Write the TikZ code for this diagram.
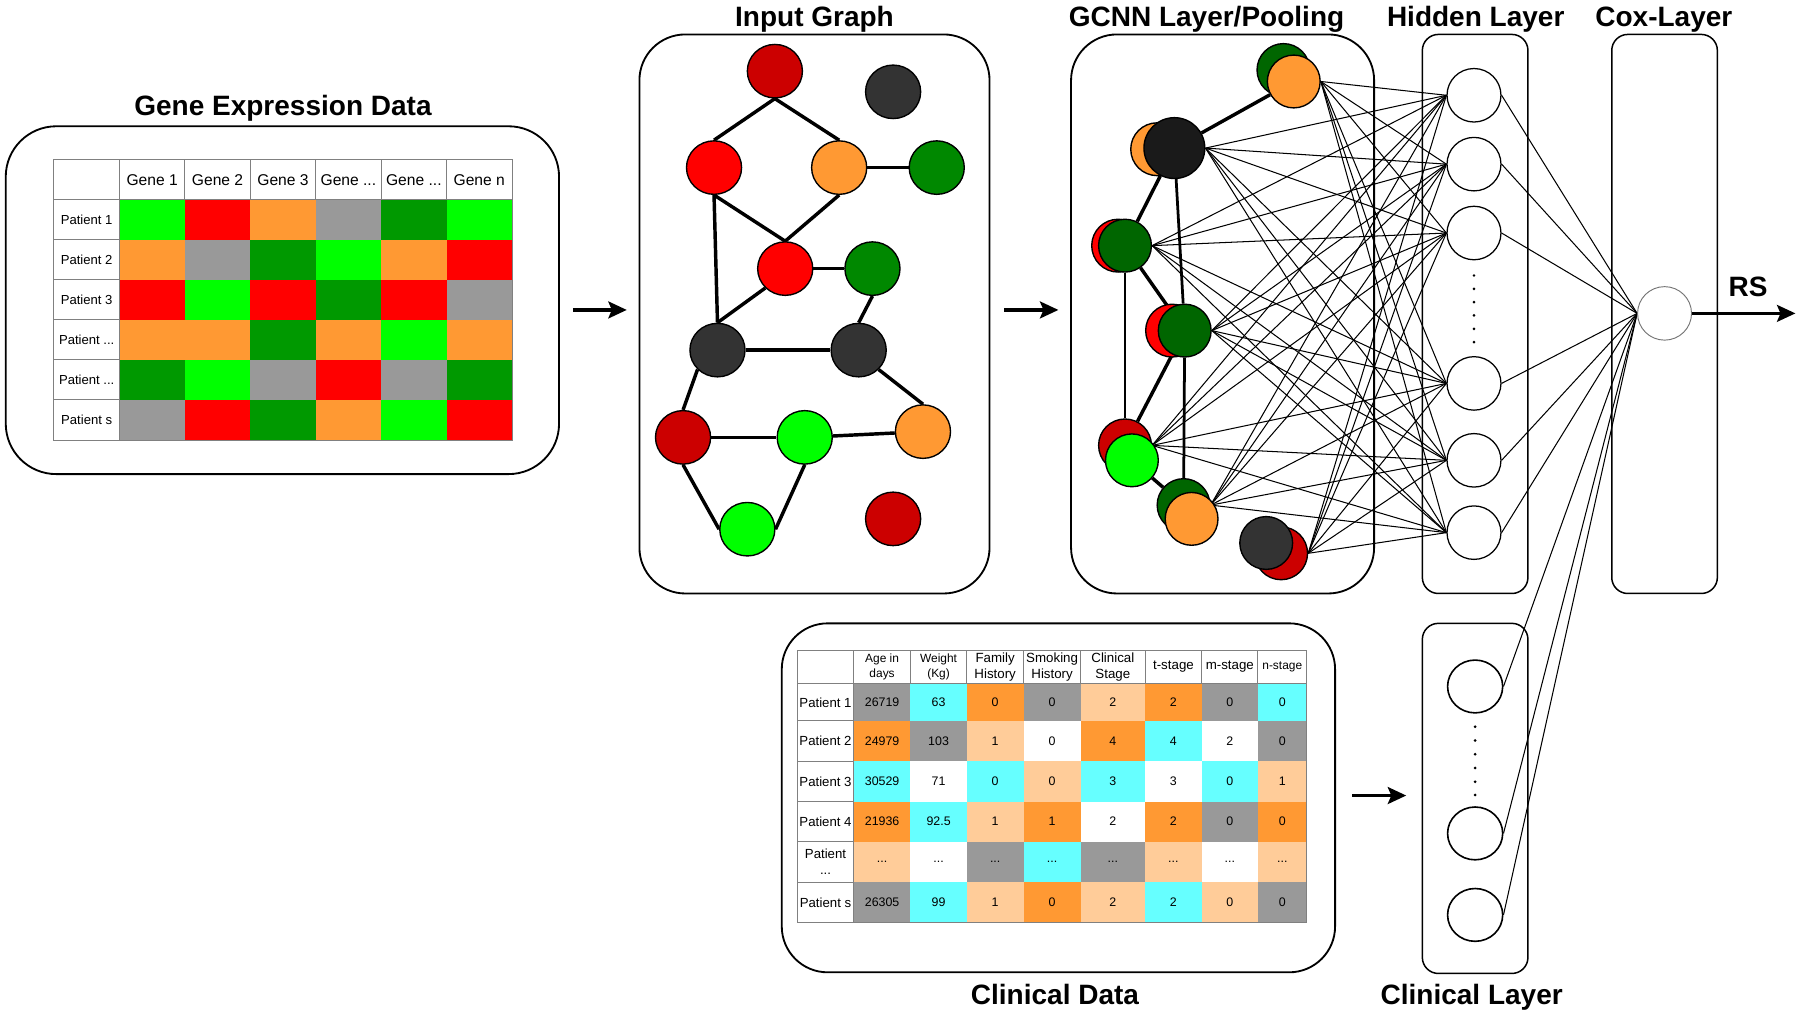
\documentclass[tikz,border=0pt]{standalone}
\usepackage{fontspec}
\setmainfont{Liberation Sans}
\usetikzlibrary{arrows.meta,shapes.geometric,backgrounds}
\definecolor{cLG}{HTML}{00FF00}
\definecolor{cR}{HTML}{FF0000}
\definecolor{cO}{HTML}{FF9933}
\definecolor{cG}{HTML}{999999}
\definecolor{cDG}{HTML}{009900}
\definecolor{cDR}{HTML}{CC0000}
\definecolor{cDK}{HTML}{333333}
\definecolor{cGN}{HTML}{008800}
\definecolor{cGG}{HTML}{006600}
\definecolor{cBK}{HTML}{1A1A1A}
\definecolor{cCY}{HTML}{66FFFF}
\definecolor{cPE}{HTML}{FFCC99}
\definecolor{cGrid}{HTML}{808080}
\newcommand\mydots{...}
\begin{document}
\begin{tikzpicture}[x=0.5pt,y=-0.5pt,
  title/.style={font=\fontsize{12.2}{14}\selectfont\bfseries,anchor=base,inner sep=0pt},
  panel/.style={draw,line width=0.8pt,rounded corners=20pt},
  lane/.style={draw,line width=0.65pt,rounded corners=7pt},
  gnode/.style={ellipse,draw,line width=0.6pt,minimum width=24pt,minimum height=23.3pt,inner sep=0pt},
  gedge/.style={line width=1.5pt},
  pnode/.style={circle,draw,line width=0.6pt,minimum size=23pt,inner sep=0pt},
  nn/.style={line width=0.45pt},
  hnode/.style={ellipse,draw,fill=white,line width=0.55pt,minimum width=23.5pt,minimum height=23.3pt,inner sep=0pt},
  cnode/.style={ellipse,draw,fill=white,line width=0.7pt,minimum width=24pt,minimum height=23pt,inner sep=0pt},
  flow/.style={line width=1.6pt,-{Stealth[length=8pt,width=7.3pt,inset=1.5pt]}},
  gridln/.style={draw=cGrid,line width=0.4pt},
  ghead/.style={font=\fontsize{6.8}{8}\selectfont,inner sep=0pt},
  glab/.style={font=\fontsize{5.7}{7}\selectfont,inner sep=0pt},
  chead/.style={font=\fontsize{5.8}{7}\selectfont,align=center,inner sep=0pt},
  cval/.style={font=\fontsize{5.4}{6}\selectfont,inner sep=0pt},
  clab/.style={font=\fontsize{5.75}{6.8}\selectfont,align=center,inner sep=0pt}
]
\useasboundingbox (0,0) rectangle (1568,886);
\begin{scope}[on background layer]
\fill[white] (0,0) rectangle (1568,886);
\end{scope}

% ---------- titles ----------
\node[title] (tGene) at (246.5,100.8) {Gene Expression Data};
\node[title] (tInput) at (709.5,23.5) {Input Graph};
\node[title] (tGcnn) at (1051,23.5) {GCNN Layer/Pooling};
\node[title] (tHid) at (1285.5,23.5) {Hidden Layer};
\node[title] (tCox) at (1449.4,23.5) {Cox-Layer};
\node[title] (tClin) at (919,875.4) {Clinical Data};
\node[title] (tCL) at (1282,875) {Clinical Layer};
\node[title] (tRS) at (1522.7,258) {RS};

% ---------- panels ----------
\draw[panel,rounded corners=22pt] (5,110) rectangle (487,413);
\draw[panel] (557,30) rectangle (862,517);
\draw[panel] (933,30) rectangle (1197,517);
\draw[lane] (1239,30) rectangle (1331,517);
\draw[lane] (1404,30) rectangle (1496,517);
\draw[panel] (681,543) rectangle (1163,847);
\draw[lane] (1239,543) rectangle (1331,848);

% ---------- gene expression table ----------
\foreach \row [count=\r] in {{cLG,cR,cO,cG,cDG,cLG},{cO,cG,cDG,cLG,cO,cR},{cR,cLG,cR,cDG,cR,cG},{cO,cO,cDG,cO,cLG,cO},{cDG,cLG,cG,cR,cG,cDG},{cG,cR,cDG,cO,cLG,cR}}{
  \foreach \clr [count=\k] in \row {
    \fill[\clr] ({104+57*(\k-1)},{139+34.9*\r}) rectangle ({104+57*\k},{139+34.9*(\r+1)});
  }
}
\foreach \t [count=\k] in {Gene 1,Gene 2,Gene 3,Gene \mydots,Gene \mydots,Gene n}{
  \draw[gridln,fill=white] ({104+57*(\k-1)},139) rectangle ({104+57*\k},173.9);
  \node[ghead] (gh\k) at ({104+57*(\k-0.5)},156.5) {\t};
}
\foreach \t [count=\r] in {Patient 1,Patient 2,Patient 3,Patient \mydots,Patient \mydots,Patient s}{
  \draw[gridln,fill=white] (47,{139+34.9*\r}) rectangle (104,{139+34.9*(\r+1)});
  \node[glab] (gl\r) at (75.5,{139+34.9*(\r+0.5)}) {\t};
}
\draw[gridln,fill=white] (47,139) rectangle (104,173.9);
\draw[gridln] (47,139) rectangle (446,383.3);

% ---------- input graph ----------
\foreach \n/\x/\y/\clr in {g1/675/62/cDR, g2/778/80/cDK, g3/622/146/cR, g4/731/146/cO, g5/816/146/cGN, g6/684/234/cR, g7/760/234/cGN, g8/625/305/cDK, g9/748/305/cDK, g10/595/381/cDR, g11/701/381/cLG, g12/804/376/cO, g13/651/461/cLG, g14/778/452/cDR}
  \node[gnode,fill=\clr] (\n) at (\x,\y) {};
\begin{scope}[on background layer]
\draw[gedge] (g1.south) -- (g3.north);
\draw[gedge] (g1.south) -- (g4.north);
\draw[gedge] (g4) -- (g5);
\draw[gedge] (g3.south) -- (g6.north);
\draw[gedge] (g4.south) -- (g6.north);
\draw[gedge] (g3.south) -- (g8.north);
\draw[gedge] (g6) -- (g7);
\draw[gedge] (g6.south west) -- (g8.north);
\draw[gedge] (g7.south) -- (g9.north);
\draw[gedge] (g8) -- (g9);
\draw[gedge] (g8.south west) -- (g10.north);
\draw[gedge] (g9.south east) -- (g12.north);
\draw[gedge] (g10) -- (g11);
\draw[gedge] (g11) -- (g12);
\draw[gedge] (g10.south) -- (g13.west);
\draw[gedge] (g11.south) -- (g13.east);
\end{scope}

% ---------- GCNN pooled nodes ----------
\node[pnode,fill=cGG] (P1b) at (1118,61) {};
\node[pnode,fill=cO] (P1f) at (1127,71) {};
\node[pnode,fill=cO] (P2b) at (1008,130) {};
\node[pnode,fill=cBK,minimum size=26.5pt] (P2f) at (1023,129) {};
\node[pnode,fill=cR] (P3b) at (974,214) {};
\node[pnode,fill=cGG] (P3f) at (980,214) {};
\node[pnode,fill=cR] (P4b) at (1021,288) {};
\node[pnode,fill=cGG] (P4f) at (1032,288) {};
\node[pnode,fill=cDR] (P5b) at (980,388) {};
\node[pnode,fill=cLG] (P5f) at (986,401) {};
\node[pnode,fill=cGG] (P6b) at (1031,440) {};
\node[pnode,fill=cO] (P6f) at (1038,452) {};
\node[pnode,fill=cDR] (P7b) at (1116,482) {};
\node[pnode,fill=cDK] (P7f) at (1103,473) {};
\begin{scope}[on background layer]
\draw[gedge] (P2f) -- (P1f);
\draw[gedge] (P2f) -- (P3f);
\draw[gedge,line width=1.2pt] (P2f) -- (P4f);
\draw[gedge] (P3f) -- (P4f);
\draw[gedge,line width=1.2pt] (P3f) -- (P5b);
\draw[gedge] (P4f) -- (P5b);
\draw[gedge,line width=1.2pt] (P4f) -- (P6b);
\draw[gedge] (P5f) -- (P6b);
\end{scope}

% ---------- hidden layer, cox node, clinical layer ----------
\foreach \i/\y in {1/83,2/143,3/203,4/334,5/401,6/464}
  \node[hnode] (H\i) at (1284,\y) {};
\foreach \y in {240,251.6,263.2,274.8,286.4,298} \fill (1284,\y) circle (0.65pt);
\node[hnode,draw=black!55,line width=0.4pt] (X) at (1450,273) {};
\foreach \i/\y in {1/598,2/726,3/797}
  \node[cnode] (C\i) at (1285,\y) {};
\foreach \y in {633,645,657,669,681,692.5} \fill (1285,\y) circle (0.65pt);

\begin{scope}[on background layer]
\foreach \s in {P1f,P2f,P3f,P4f,P5b,P6b,P7b}
  \foreach \h in {1,...,6}
    \draw[nn] (\s.east) -- (H\h.west);
\foreach \h in {1,...,6} \draw[nn] (H\h.east) -- (X.west);
\foreach \h in {1,2,3} \draw[nn] (C\h.east) -- (X.west);
\end{scope}

% ---------- arrows ----------
\coordinate (a1s) at (499,270); \coordinate (a1e) at (546,270);
\coordinate (a2s) at (875,270); \coordinate (a2e) at (922,270);
\coordinate (a3s) at (1178,693); \coordinate (a3e) at (1225,693);
\coordinate (rsEnd) at (1564,273);
\draw[flow] (a1s) -- (a1e);
\draw[flow] (a2s) -- (a2e);
\draw[flow] (a3s) -- (a3e);
\draw[flow,line width=1.4pt] (X.east) -- (rsEnd);

% ---------- clinical table ----------
\def\clx{{694.4,743.8,793,842.2,891.6,941.4,997.4,1046.9,1095.7,1138.3}}
\def\cly{{566.2,595.8,627.8,662.9,698.3,733.1,768.6,803.7}}
\foreach \row [count=\r] in {
 {cG/26719,cCY/63,cO/0,cG/0,cPE/2,cO/2,cG/0,cCY/0},
 {cO/24979,cG/103,cPE/1,white/0,cO/4,cCY/4,white/2,cG/0},
 {cCY/30529,white/71,cCY/0,cPE/0,cCY/3,white/3,cCY/0,cPE/1},
 {cO/21936,cCY/92.5,cPE/1,cO/1,white/2,cO/2,cG/0,cO/0},
 {cPE/\mydots,white/\mydots,cG/\mydots,cCY/\mydots,cG/\mydots,cPE/\mydots,white/\mydots,cPE/\mydots},
 {cG/26305,cCY/99,cPE/1,cO/0,cPE/2,cCY/2,cPE/0,cG/0}}{
  \foreach \clr/\t [count=\k] in \row {
    \pgfmathsetmacro\xa{\clx[\k]}
    \pgfmathsetmacro\xb{\clx[\k+1]}
    \pgfmathsetmacro\ya{\cly[\r]}
    \pgfmathsetmacro\yb{\cly[\r+1]}
    \fill[\clr] (\xa,\ya) rectangle (\xb,\yb);
    \node[cval] (cd\r-\k) at ({(\xa+\xb)/2},{(\ya+\yb)/2}) {\t};
  }
}
\foreach \k in {1,...,8}{
  \pgfmathsetmacro\xa{\clx[\k]}
  \pgfmathsetmacro\xb{\clx[\k+1]}
  \draw[gridln,fill=white] (\xa,566.2) rectangle (\xb,595.8);
}
\draw[gridln,fill=white] (694.4,566.2) rectangle (743.8,595.8);
\foreach \t [count=\r] in {Patient 1,Patient 2,Patient 3,Patient 4,{Patient\\\mydots},Patient s}{
  \pgfmathsetmacro\ya{\cly[\r]}
  \pgfmathsetmacro\yb{\cly[\r+1]}
  \draw[gridln,fill=white] (694.4,\ya) rectangle (743.8,\yb);
  \node[clab] (cl\r) at (719.1,{(\ya+\yb)/2}) {\t};
}
\draw[gridln] (694.4,566.2) rectangle (1138.3,803.7);
\node[chead,font=\fontsize{5.2}{6.5}\selectfont] (ch1) at (768.4,581) {Age in\\days};
\node[chead,font=\fontsize{5.2}{6.5}\selectfont] (ch2) at (817.6,581) {Weight\\(Kg)};
\node[chead] (ch3) at (866.9,581) {Family\\History};
\node[chead] (ch4) at (916.5,581) {Smoking\\History};
\node[chead] (ch5) at (969.4,581) {Clinical\\Stage};
\node[chead] (ch6) at (1022.2,581) {t-stage};
\node[chead] (ch7) at (1071.3,581) {m-stage};
\node[chead,font=\fontsize{5.2}{6.5}\selectfont] (ch8) at (1117,581) {n-stage};
\end{tikzpicture}
\end{document}
